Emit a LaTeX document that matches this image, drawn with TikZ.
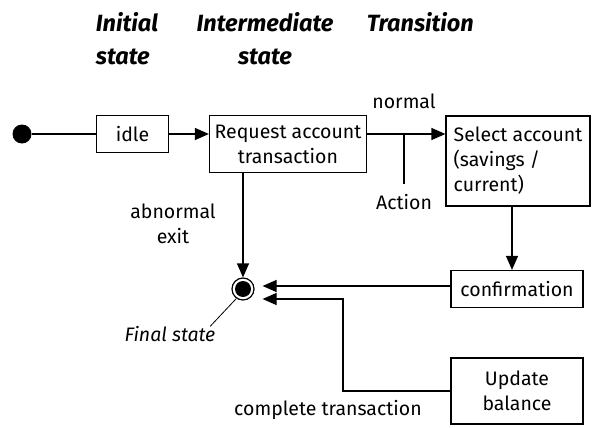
\documentclass[tikz,border=0pt]{standalone}
\usepackage{fontspec}
\setmainfont{Fira Sans}
\usetikzlibrary{arrows.meta}

\begin{document}
\begin{tikzpicture}[x=1pt,y=-1pt,line width=1.2pt,
  font=\fontsize{19.5}{25}\selectfont,
  box/.style={draw,inner sep=0pt},
  arr/.style={-{Triangle[length=14pt,width=12pt]}},
  head/.style={font=\fontsize{23.5}{33}\selectfont\bfseries\itshape},
  final/.style={circle,draw,inner sep=0pt,minimum size=22pt,
    path picture={\fill (path picture bounding box.center) circle (8);}}]
\useasboundingbox (0,0) rectangle (594,428);

\node[head,align=left,anchor=west] (hinit) at (92,39) {Initial\\state};
\node[head,align=center] (hinter) at (265,39) {Intermediate\\state};
\node[head,anchor=west] (htrans) at (363,22) {Transition};

\node[circle,fill,inner sep=0pt,minimum size=19pt] (init) at (22,134) {};
\node[box,minimum width=72pt,minimum height=37pt] (idle) at (132.5,134) {idle};
\node[box,align=center,minimum width=157pt,minimum height=57pt] (req) at (288,144) {Request account\\transaction};
\node[box,align=left,minimum width=144pt,minimum height=90pt] (sel) at (518,161) {Select account\\(savings /\\current)};
\node[box,minimum width=132pt,minimum height=37pt] (conf) at (517,289) {confirmation};
\node[box,align=center,minimum width=132pt,minimum height=66pt] (upd) at (517,391) {Update\\balance};
\node[final] (final) at (243,289) {};

\node (normal) at (404,101) {normal};
\node (action) at (404,202) {Action};
\node[align=center] (abn) at (173,224) {abnormal\\exit};
\node[font=\fontsize{19.5}{25}\selectfont\itshape] (fstate) at (170,334) {Final state};
\node (compl) at (328,410) {complete transaction};

\coordinate (act) at (404,134);
\coordinate (bend) at (343,299);

\draw (init) -- (idle);
\draw[arr] (idle.east) -- (idle.east -| req.west);
\draw[arr] (req.east |- idle.east) -- (sel.west |- idle.east);
\draw (act) -- ([yshift=6pt]action.north);
\draw[arr] (final |- req.south) -- (final.north);
\draw[arr] ([xshift=-6pt]sel.south) -- ([xshift=-6pt]sel.south |- conf.north);
\draw[arr,shorten >=8pt] ([yshift=3pt]conf.west) -- ([yshift=3pt]conf.west -| final.east);
\draw[arr,shorten >=8pt] (upd.west) -| (bend) -- (bend -| final.east);
\draw[line width=0.8pt] (final.235) -- ([xshift=-9pt,yshift=-4pt]fstate.north east);

\end{tikzpicture}
\end{document}
